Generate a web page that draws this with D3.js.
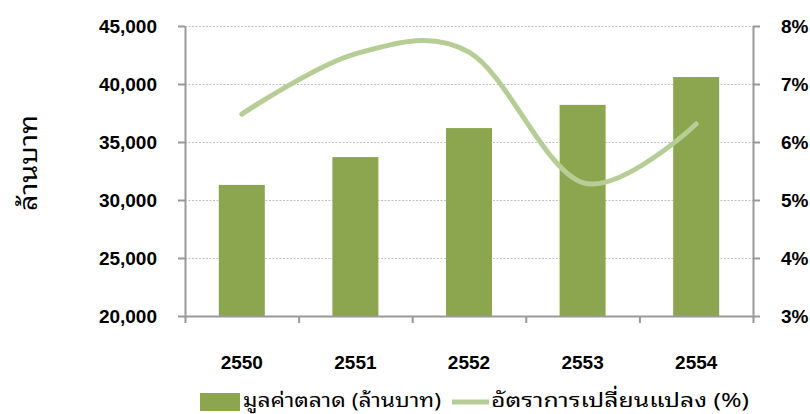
<!DOCTYPE html>
<html>
<head>
<meta charset="utf-8">
<script src="https://cdn.jsdelivr.net/npm/d3@7"></script>
<style>
  html, body { margin: 0; padding: 0; background: #ffffff; }
  svg { display: block; }
</style>
</head>
<body>
<svg id="chart" width="810" height="414"></svg>
<script>
const categories = ["2550", "2551", "2552", "2553", "2554"];
const marketValue = [31300, 33700, 36200, 38200, 40600];
const changeRate = [6.48, 7.52, 7.55, 5.30, 6.31];
const leftTicks = [20000, 25000, 30000, 35000, 40000, 45000];
const rightTicks = [3, 4, 5, 6, 7, 8];
const yTitle = "ล้านบาท";
const barLegend = "มูลค่าตลาด (ล้านบาท)";
const lineLegend = "อัตราการเปลี่ยนแปลง (%)";

const svg = d3.select("#chart");
const X0 = 185, X1 = 753, YT = 26, YB = 316;
const axisColor = "#999999";
const barColor = "#8BA64E";
const lineColor = "#B7CD96";
const numFont = "'Liberation Sans', Arial, sans-serif";
const thaiFont = "'Noto Sans Thai Looped', Loma, Garuda, Tahoma, 'Noto Sans Thai', 'Liberation Sans', sans-serif";

const x = d3.scaleBand().domain(categories).range([X0, X1])
  .paddingInner(0.595).paddingOuter(0.2975);
const xEdge = d3.scaleLinear().domain([0, categories.length]).range([X0, X1]);
const yL = d3.scaleLinear().domain([20000, 45000]).range([YB, YT]);
const yR = d3.scaleLinear().domain([3, 8]).range([YB, YT]);

// gridlines
svg.append("g").selectAll("line")
  .data(leftTicks.filter(d => d !== 20000))
  .join("line")
  .attr("x1", X0).attr("x2", X1)
  .attr("y1", d => yL(d) + 0.5).attr("y2", d => yL(d) + 0.5)
  .attr("stroke", "#c0c0c0").attr("stroke-width", 1)
  .attr("stroke-dasharray", "2,1.5");

// bars
svg.append("g").selectAll("rect")
  .data(categories)
  .join("rect")
  .attr("x", d => x(d))
  .attr("width", x.bandwidth())
  .attr("y", (d, i) => yL(marketValue[i]))
  .attr("height", (d, i) => YB - yL(marketValue[i]))
  .attr("fill", barColor);

// axes
function styleAxis(g) {
  g.selectAll("path.domain").attr("stroke", axisColor).attr("stroke-width", 2);
  g.selectAll(".tick line").attr("stroke", axisColor).attr("stroke-width", 2);
  g.selectAll("text").attr("font-family", numFont).attr("font-weight", "bold")
    .attr("font-size", 19).attr("fill", "#000");
}

const gL = svg.append("g").attr("transform", `translate(${X0},0)`)
  .call(d3.axisLeft(yL).tickValues(leftTicks).tickSizeInner(7).tickSizeOuter(0)
    .tickPadding(21).tickFormat(d3.format(",")));
styleAxis(gL);

const gR = svg.append("g").attr("transform", `translate(${X1},0)`)
  .call(d3.axisRight(yR).tickValues(rightTicks).tickSizeInner(7).tickSizeOuter(0)
    .tickPadding(21).tickFormat(d => d + "%"));
styleAxis(gR);

const gB = svg.append("g").attr("transform", `translate(0,${YB})`)
  .call(d3.axisBottom(xEdge).tickValues(d3.range(categories.length + 1))
    .tickSizeInner(7).tickSizeOuter(0).tickFormat(""));
styleAxis(gB);

const gBL = svg.append("g").attr("transform", `translate(0,${YB})`)
  .call(d3.axisBottom(x).tickSize(0).tickPadding(40));
gBL.select("path.domain").remove();
styleAxis(gBL);

// line
const line = d3.line()
  .x((d, i) => x(categories[i]) + x.bandwidth() / 2)
  .y(d => yR(d))
  .curve(d3.curveCatmullRom.alpha(0));
svg.append("path")
  .datum(changeRate)
  .attr("d", line)
  .attr("fill", "none")
  .attr("stroke", lineColor)
  .attr("stroke-width", 5)
  .attr("stroke-linecap", "round")
  .attr("stroke-linejoin", "round");

// y title
svg.append("text")
  .attr("transform", "translate(37,163) rotate(-90)")
  .attr("text-anchor", "middle")
  .attr("font-family", thaiFont)
  .attr("font-size", 24)
  .attr("textLength", 96)
  .attr("lengthAdjust", "spacingAndGlyphs")
  .attr("fill", "#000")
  .text(yTitle);

// legend
const lg = svg.append("g");
lg.append("rect").attr("x", 200).attr("y", 393).attr("width", 40).attr("height", 18)
  .attr("fill", barColor);
lg.append("text").attr("x", 243).attr("y", 407)
  .attr("font-family", thaiFont).attr("font-size", 20)
  .attr("textLength", 198).attr("lengthAdjust", "spacingAndGlyphs")
  .attr("fill", "#000")
  .text(barLegend);
lg.append("line").attr("x1", 452).attr("x2", 489).attr("y1", 402).attr("y2", 402)
  .attr("stroke", lineColor).attr("stroke-width", 5);
lg.append("text").attr("x", 491).attr("y", 407)
  .attr("font-family", thaiFont).attr("font-size", 20)
  .attr("textLength", 258).attr("lengthAdjust", "spacingAndGlyphs")
  .attr("fill", "#000")
  .text(lineLegend);
</script>
</body>
</html>
